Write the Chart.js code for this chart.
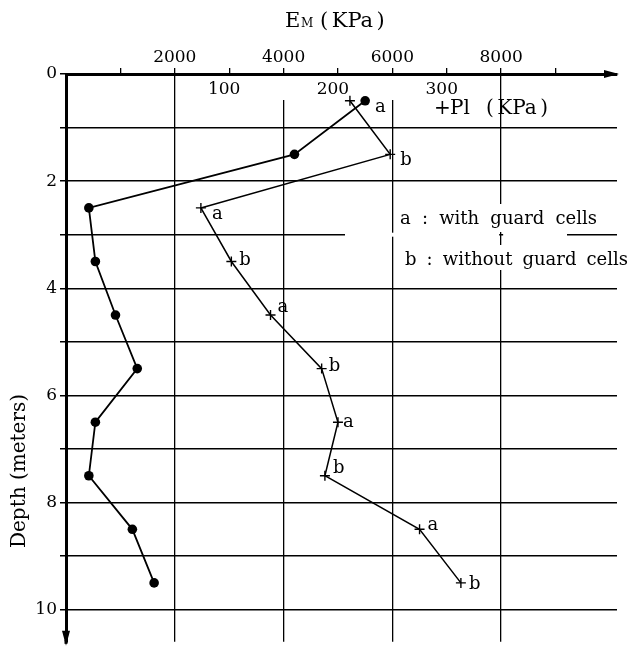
<!DOCTYPE html>
<html>
<head>
<meta charset="utf-8">
<script src="https://cdn.jsdelivr.net/npm/chart.js@4.4.1/dist/chart.umd.min.js"></script>
<style>
  body { margin: 0; background: #fff; }
  #c { display: block; }
</style>
</head>
<body>
<canvas id="c" width="630" height="655"></canvas>
<script>
// depth of each test (m)
const depths = [0.5, 1.5, 2.5, 3.5, 4.5, 5.5, 6.5, 7.5, 8.5, 9.5]
// pressuremeter modulus EM (KPa) - dots
const emValues = [5500, 4200, 420, 540, 910, 1310, 540, 420, 1220, 1620]
// limit pressure Pl (KPa) - crosses
const plValues = [211, 248, 74, 102, 138, 185, 200, 188, 275, 313]
const plLabels = ['a', 'b', 'a', 'b', 'a', 'b', 'a', 'b', 'a', 'b']

const emTicks = [2000, 4000, 6000, 8000]
const plTicks = [100, 200, 300]
const depthTicks = [0, 2, 4, 6, 8, 10]

// little nudges for the a/b marks, pixels from the cross
const labelNudge = [[25, 7], [10, 6], [11, 6], [8, -1], [7, -8], [7, -2], [5, 0], [8, -7], [8, -4], [8, 1]]

const SERIF = '"DejaVu Serif", "Liberation Serif", serif'

// stretch the gaps between words so the line gets the width of the original
function wordFit(c, text, x, y, width) {
  c.wordSpacing = '0px'
  const w = c.measureText(text).width
  const gaps = text.split(' ').length - 1
  if (gaps > 0) c.wordSpacing = ((width - w) / gaps) + 'px'
  c.fillText(text, x, y)
  c.wordSpacing = '0px'
}

// "(KPa)" with a bit of air inside the brackets, returns end x
function unitText(c, x, y, gap) {
  c.fillText('(', x, y)
  x += c.measureText('(').width + gap
  c.fillText('KPa', x, y)
  x += c.measureText('KPa').width + gap
  c.fillText(')', x, y)
  return x + c.measureText(')').width
}

const decor = {
  id: 'decor',
  afterDraw(chart) {
    const c = chart.ctx
    const a = chart.chartArea
    const xs = chart.scales.x, ps = chart.scales.xPl, ys = chart.scales.y
    c.save()

    // white-outs where the original lines are broken
    c.fillStyle = '#fff'
    ;[4000, 6000].forEach(v => {
      const px = xs.getPixelForValue(v)
      c.fillRect(px - 2, a.top + 2, 4, 24)
    })
    const y3 = ys.getPixelForValue(3)
    const x8 = xs.getPixelForValue(8000)
    c.fillRect(345, y3 - 2, x8 - 2 - 345, 4)
    c.fillRect(x8 + 2, y3 - 2, 567 - x8 - 2, 4)
    c.fillRect(398, 204, 202, 28)
    c.fillRect(403, 245, 227, 25)

    c.fillStyle = '#000'
    c.strokeStyle = '#000'

    // arrow heads
    c.beginPath()
    c.moveTo(a.right + 2, a.top)
    c.lineTo(a.right - 13, a.top - 4)
    c.lineTo(a.right - 13, a.top + 4)
    c.closePath()
    c.fill()
    c.lineWidth = 3
    c.beginPath()
    c.moveTo(a.left, a.bottom - 2)
    c.lineTo(a.left, a.bottom + 2)
    c.stroke()
    c.beginPath()
    c.moveTo(a.left, a.bottom + 4)
    c.lineTo(a.left - 4, a.bottom - 11)
    c.lineTo(a.left + 4, a.bottom - 11)
    c.closePath()
    c.fill()

    // title EM (KPa)
    c.textBaseline = 'alphabetic'
    c.textAlign = 'left'
    c.font = '21px ' + SERIF
    c.fillText('E', 285, 27)
    c.font = '12px ' + SERIF
    c.fillText('M', 301, 27)
    c.font = '21px ' + SERIF
    unitText(c, 320, 27, 3.5)

    // Pl axis labels
    c.font = '17px ' + SERIF
    c.textAlign = 'center'
    c.textBaseline = 'middle'
    plTicks.forEach(v => {
      c.fillText(String(v), ps.getPixelForValue(v) - 5, 90)
    })
    c.textAlign = 'left'
    c.textBaseline = 'alphabetic'
    c.font = '20px ' + SERIF
    c.fillText('+', 434, 114)
    c.fillText('Pl', 450, 114)
    unitText(c, 486, 114, 3.5)

    // a / b marks beside the crosses
    const meta = chart.getDatasetMeta(1)
    c.font = '18px ' + SERIF
    c.textBaseline = 'middle'
    meta.data.forEach((pt, i) => {
      const nd = labelNudge[i]
      c.fillText(plLabels[i], pt.x + nd[0], pt.y + nd[1])
    })

    // legend text
    c.textBaseline = 'alphabetic'
    c.font = '18px ' + SERIF
    wordFit(c, 'a : with guard cells', 400, 224, 197)
    wordFit(c, 'b : without guard cells', 405, 265, 223)

    // depth title
    c.save()
    c.translate(20, 471)
    c.rotate(-Math.PI / 2)
    c.textAlign = 'center'
    c.textBaseline = 'middle'
    c.font = '20px ' + SERIF
    c.fillText('Depth (meters)', 0, 0)
    c.restore()

    c.restore()
  }
}

const config = {
  type: 'scatter',
  data: {
    datasets: [
      {
        label: 'EM',
        data: depths.map((d, i) => ({ x: emValues[i], y: d })),
        xAxisID: 'x',
        yAxisID: 'y',
        showLine: true,
        borderColor: '#000',
        borderWidth: 1.8,
        pointStyle: 'circle',
        pointRadius: 4.8,
        pointBackgroundColor: '#000',
        pointBorderColor: '#000',
        pointBorderWidth: 0
      },
      {
        label: 'Pl',
        data: depths.map((d, i) => ({ x: plValues[i], y: d })),
        xAxisID: 'xPl',
        yAxisID: 'y',
        showLine: true,
        borderColor: '#000',
        borderWidth: 1.5,
        pointStyle: 'cross',
        pointRadius: 5,
        pointBorderColor: '#000',
        pointBorderWidth: 1.4,
        pointBackgroundColor: 'rgba(0,0,0,0)'
      }
    ]
  },
  options: {
    responsive: false,
    animation: false,
    layout: { padding: { left: 0, right: 13, top: 0, bottom: 4 } },
    plugins: { legend: { display: false }, tooltip: { enabled: false } },
    scales: {
      x: {
        type: 'linear',
        position: 'top',
        min: 0,
        max: 10130,
        afterBuildTicks: s => {
          s.ticks = [1000, 2000, 3000, 4000, 5000, 6000, 7000, 8000, 9000].map(v => ({ value: v }))
        },
        afterFit: s => { s.height = 74 },
        ticks: {
          autoSkip: false,
          maxRotation: 0,
          padding: 0,
          color: '#000',
          font: { family: SERIF, size: 17 },
          callback: v => emTicks.includes(v) ? String(v) : ''
        },
        grid: {
          color: c => emTicks.includes(c.tick.value) ? '#000' : 'rgba(0,0,0,0)',
          tickColor: '#000',
          lineWidth: 1.3,
          tickWidth: 1.3,
          tickLength: 6
        },
        border: { display: true, color: '#000', width: 3 }
      },
      xPl: {
        type: 'linear',
        display: false,
        min: -50,
        max: 456.5
      },
      y: {
        type: 'linear',
        position: 'left',
        reverse: true,
        min: 0,
        max: 10.6,
        afterBuildTicks: s => {
          s.ticks = [0, 1, 2, 3, 4, 5, 6, 7, 8, 9, 10].map(v => ({ value: v }))
        },
        afterFit: s => { s.width = 66 },
        ticks: {
          autoSkip: false,
          padding: 3,
          color: '#000',
          font: { family: SERIF, size: 17 },
          callback: v => depthTicks.includes(v) ? String(v) : ''
        },
        grid: {
          color: '#000',
          lineWidth: 1.5,
          tickLength: 6
        },
        border: { display: true, color: '#000', width: 3 }
      }
    }
  },
  plugins: [decor]
}

const myChart = new Chart(document.getElementById('c'), config)
</script>
</body>
</html>
